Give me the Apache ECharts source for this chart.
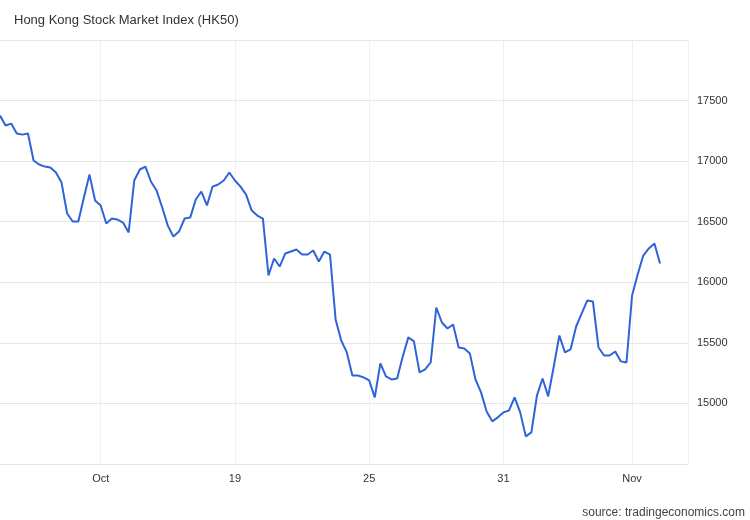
<!DOCTYPE html>
<html>
<head>
<meta charset="utf-8">
<script src="https://cdn.jsdelivr.net/npm/echarts@6/dist/echarts.min.js"></script>
<style>
  html, body { margin: 0; padding: 0; background: #fff; }
  #main { width: 750px; height: 520px; }
</style>
</head>
<body>
<div id="main"></div>
<script>
// HK50 readings, one per sample
const hk50 = [
  17376, 17294, 17310, 17228, 17219, 17228, 17005, 16972, 16955, 16947,
  16906, 16823, 16568, 16502, 16502, 16700, 16889, 16675, 16634, 16485,
  16526, 16518, 16493, 16411, 16840, 16931, 16955, 16830, 16757, 16617,
  16468, 16378, 16419, 16526, 16534, 16683, 16749, 16634, 16790, 16807,
  16840, 16906, 16840, 16790, 16724, 16592, 16551, 16526, 16056, 16196,
  16130, 16238, 16254, 16271, 16229, 16229, 16262, 16172, 16254, 16229,
  15693, 15520, 15421, 15231, 15231, 15215, 15190, 15050, 15330, 15223,
  15198, 15206, 15388, 15545, 15512, 15256, 15281, 15338, 15792, 15668,
  15619, 15652, 15462, 15454, 15413, 15198, 15091, 14934, 14852, 14885,
  14926, 14942, 15050, 14926, 14728, 14761, 15066, 15206, 15058, 15305,
  15561, 15421, 15446, 15635, 15743, 15850, 15842, 15462, 15396, 15396,
  15429, 15347, 15338, 15891, 16064, 16221, 16279, 16320, 16155
];

// x axis: sample slots, with the date labels at a few of them
const slotCount = 124;
const tickSlots = [18, 42, 66, 90, 113];
const tickLabels = ['Oct', '19', '25', '31', 'Nov'];

const slots = [];
for (let i = 0; i < slotCount; i++) slots.push(String(i));

const chart = echarts.init(document.getElementById('main'));

chart.setOption({
  animation: false,
  textStyle: { fontFamily: 'Liberation Sans, Arial, sans-serif' },
  title: [
    {
      text: 'Hong Kong Stock Market Index (HK50)',
      left: 9, top: 9,
      textStyle: { fontSize: 13, fontWeight: 'normal', color: '#333' }
    },
    {
      text: 'source: tradingeconomics.com',
      right: 0, top: 502,
      textStyle: { fontSize: 12, fontWeight: 'normal', color: '#444' }
    }
  ],
  grid: { left: 0, right: 62, top: 40, bottom: 56 },
  xAxis: {
    type: 'category',
    data: slots,
    boundaryGap: false,
    axisLine: { show: true, lineStyle: { color: '#e4e4e4' } },
    axisTick: { show: false },
    axisLabel: {
      interval: (i) => tickSlots.includes(i),
      formatter: (v, i) => tickLabels[tickSlots.indexOf(i)] || '',
      color: '#333', fontSize: 11, margin: 9
    },
    splitLine: {
      show: true,
      interval: (i) => tickSlots.includes(i) || i === slotCount - 1,
      lineStyle: { color: '#f0f0f0' }
    }
  },
  yAxis: {
    type: 'value',
    position: 'right',
    min: 14500, max: 18000, interval: 500,
    axisLine: { show: false },
    axisTick: { show: false },
    axisLabel: {
      showMinLabel: false, showMaxLabel: false,
      formatter: (v) => String(v),
      color: '#333', fontSize: 11, margin: 9
    },
    splitLine: { lineStyle: { color: '#e6e6e6' } }
  },
  series: [{
    type: 'line',
    data: hk50,
    showSymbol: false,
    lineStyle: { color: '#2f63d8', width: 2 },
    itemStyle: { color: '#2f63d8' }
  }]
});
</script>
</body>
</html>
